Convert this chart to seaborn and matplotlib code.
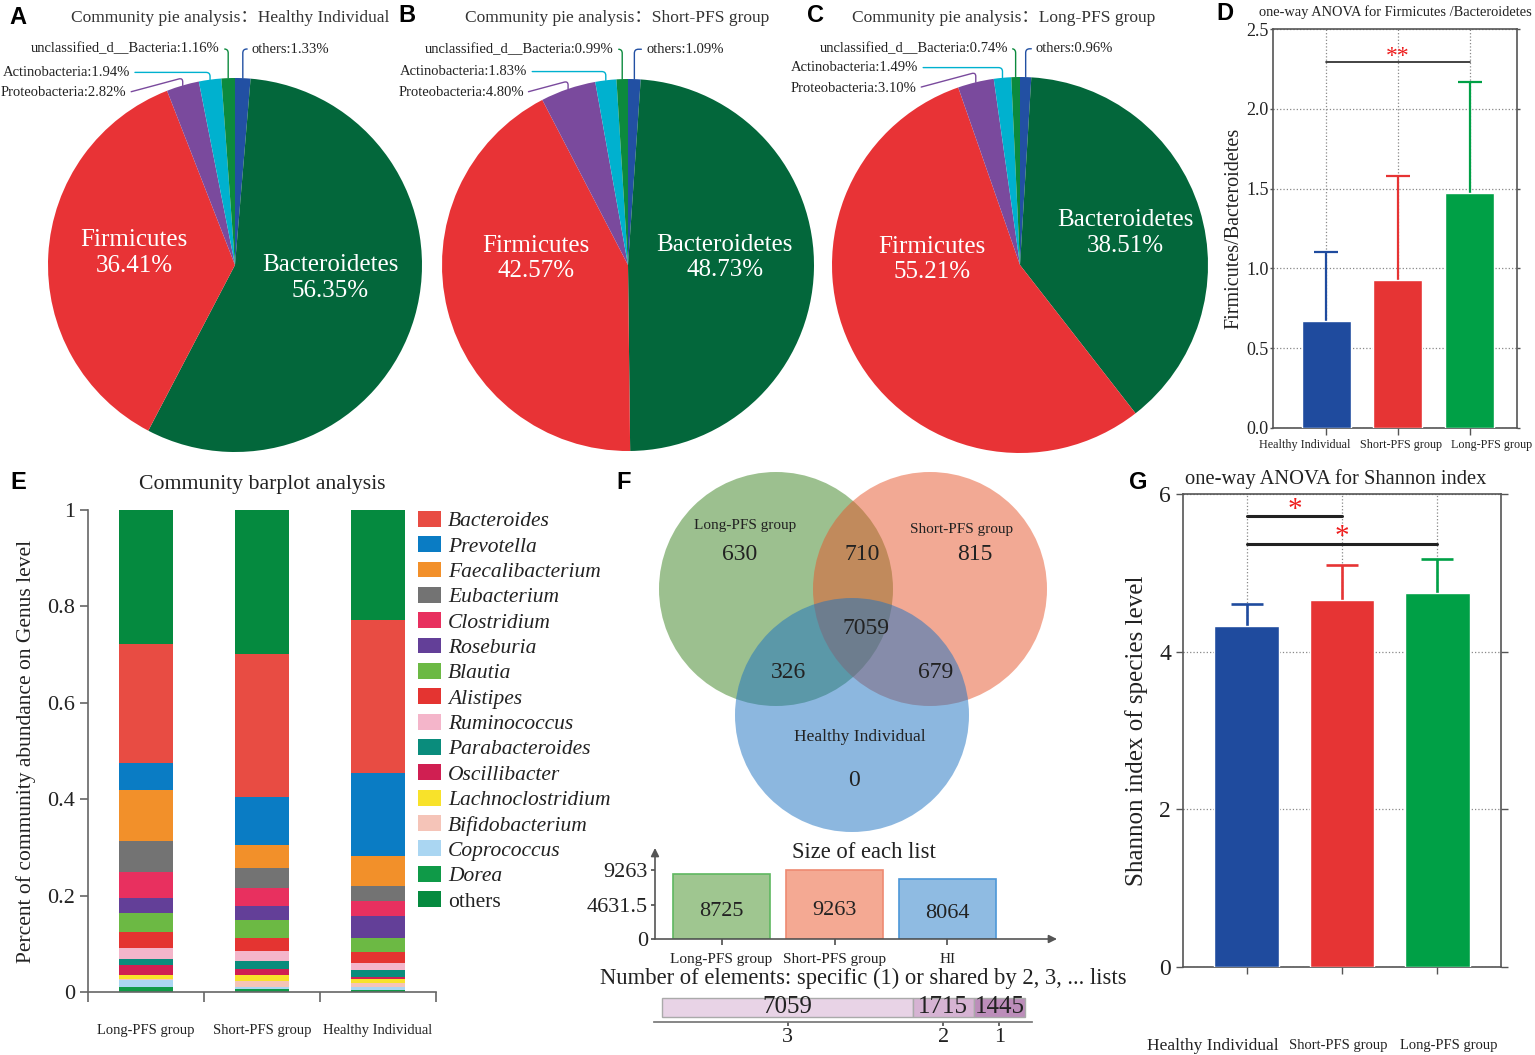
import numpy as np
import pandas as pd
import matplotlib
matplotlib.use('Agg')
import matplotlib.pyplot as plt
from matplotlib.patches import Circle, Patch
import seaborn as sns

# ---------------- data ----------------
# pie panels, wedges clockwise from 12 o'clock
phyla = ['others', 'Bacteroidetes', 'Firmicutes', 'Proteobacteria',
         'Actinobacteria', 'unclassified_d__Bacteria']
pie_healthy = [1.33, 56.35, 36.41, 2.82, 1.94, 1.16]
pie_short = [1.09, 48.73, 42.57, 4.80, 1.83, 0.99]
pie_long = [0.96, 38.51, 55.21, 3.10, 1.49, 0.74]

# one-way ANOVA panels (mean, upper SD)
groups = ['Healthy Individual', 'Short-PFS group', 'Long-PFS group']
fb_mean = [0.67, 0.93, 1.47]
fb_sd = [0.43, 0.65, 0.70]
shannon_mean = [4.32, 4.66, 4.74]
shannon_sd = [0.28, 0.44, 0.43]

# genus level community barplot (legend order)
bar_groups = ['Long-PFS group', 'Short-PFS group', 'Healthy Individual']
genera = ['Bacteroides', 'Prevotella', 'Faecalibacterium', 'Eubacterium',
          'Clostridium', 'Roseburia', 'Blautia', 'Alistipes', 'Ruminococcus',
          'Parabacteroides', 'Oscillibacter', 'Lachnoclostridium',
          'Bifidobacterium', 'Coprococcus', 'Dorea', 'others']
long_abund = [0.248, 0.056, 0.106, 0.065, 0.052, 0.032, 0.040, 0.033, 0.022,
              0.014, 0.019, 0.008, 0.004, 0.014, 0.010, 0.277]
short_abund = [0.297, 0.099, 0.047, 0.042, 0.038, 0.029, 0.036, 0.027, 0.022,
               0.016, 0.012, 0.014, 0.012, 0.004, 0.006, 0.299]
healthy_abund = [0.318, 0.171, 0.063, 0.031, 0.031, 0.045, 0.029, 0.024, 0.014,
                 0.014, 0.006, 0.007, 0.009, 0.005, 0.005, 0.228]

# venn
venn_names = ['Long-PFS group', 'Short-PFS group', 'Healthy Individual']
venn_only = [630, 815, 0]
venn_long_short = 710
venn_long_hi = 326
venn_short_hi = 679
venn_all = 7059
list_names = ['Long-PFS group', 'Short-PFS group', 'HI']
list_sizes = [8725, 9263, 8064]
shared_by = ['3', '2', '1']
shared_counts = [7059, 1715, 1445]

# ---------------- style ----------------
sns.set_theme(style='white')
plt.rcParams['font.family'] = ['Liberation Serif', 'Noto Sans CJK SC']
plt.rcParams['axes.edgecolor'] = '#555555'
plt.rcParams['xtick.color'] = '#555555'
plt.rcParams['ytick.color'] = '#555555'
plt.rcParams['xtick.labelcolor'] = '#222222'
plt.rcParams['ytick.labelcolor'] = '#222222'
plt.rcParams['axes.labelcolor'] = '#222222'

pie_colors = ['#2250a3', '#03673b', '#e83336', '#7a4a9d', '#00b1cf', '#0c8a3d']
group_colors = ['#1f4b9e', '#e63434', '#00a046']
genus_colors = ['#e84c43', '#0a7cc4', '#f2902a', '#737373', '#e8305f',
                '#633f98', '#6cb944', '#e43431', '#f4b5ca', '#0a8c7c',
                '#d01f52', '#f8e22a', '#f5c4b8', '#aad6f2', '#0f9a48', '#058a3f']

W, H = 1535, 1055
fig = plt.figure(figsize=(W / 100, H / 100), dpi=100)


def px_axes(x0, y0, x1, y1):
    return fig.add_axes([x0 / W, 1 - y1 / H, (x1 - x0) / W, (y1 - y0) / H])


def ftext(x, y, s, **kw):
    return fig.text(x / W, 1 - y / H, s, **kw)


def letter(x, y, s):
    ftext(x, y, s, family='Liberation Sans', weight='bold', fontsize=17,
          color='black', ha='center', va='center')


# ---------------- A-C pies ----------------
def draw_pie(cx, cy, r, vals, title, tx, label_xy, inner_xy):
    ax = px_axes(cx - r, cy - r, cx + r, cy + r)
    wedges, _ = ax.pie(vals, colors=pie_colors, startangle=90, counterclock=False,
                       radius=1, wedgeprops=dict(linewidth=0))
    ax.set_xlim(-1, 1)
    ax.set_ylim(-1, 1)
    for i in (1, 2):
        ax.text(inner_xy[i][0], inner_xy[i][1], f'{phyla[i]}\n{vals[i]:.2f}%',
                color='white', ha='center', va='center', fontsize=18, linespacing=1.2)
    for i in (0, 5, 4, 3):
        w = wedges[i]
        a = np.deg2rad((w.theta1 + w.theta2) / 2)
        xy = (np.cos(a), np.sin(a))
        ha = 'left' if i == 0 else 'right'
        angA = 15 if i == 3 else 0
        ax.annotate(f'{phyla[i]}:{vals[i]:.2f}%', xy=xy, xytext=label_xy[i],
                    ha=ha, va='center', fontsize=10.5, color='#222222',
                    annotation_clip=False,
                    arrowprops=dict(arrowstyle='-', color=pie_colors[i], lw=1,
                                    shrinkA=1, shrinkB=0,
                                    relpos=(0, 0.5) if i == 0 else (1, 0.5),
                                    connectionstyle=f'angle,angleA={angA},angleB=90,rad=4'))
    ftext(tx, 18, title, fontsize=12.5, color='#333333', ha='center', va='center')


draw_pie(235, 265, 187, pie_healthy, 'Community pie analysis：Healthy Individual', 230,
         {0: (0.09, 1.155), 5: (-0.08, 1.155), 4: (-0.56, 1.03), 3: (-0.58, 0.92)},
         {1: (0.51, -0.07), 2: (-0.54, 0.065)})
draw_pie(628, 265, 186, pie_short, 'Community pie analysis：Short-PFS group', 617,
         {0: (0.097, 1.16), 5: (-0.075, 1.16), 4: (-0.54, 1.04), 3: (-0.56, 0.925)},
         {1: (0.52, 0.04), 2: (-0.495, 0.035)})
draw_pie(1020, 265, 188, pie_long, 'Community pie analysis：Long-PFS group', 1004,
         {0: (0.085, 1.15), 5: (-0.064, 1.15), 4: (-0.54, 1.05), 3: (-0.55, 0.94)},
         {1: (0.56, 0.17), 2: (-0.47, 0.03)})
letter(18, 18, 'A')
letter(407, 15, 'B')
letter(816, 15, 'C')


# ---------------- D / G anova bars ----------------
def anova_bars(ax, means, sds, capsize, lw):
    df = pd.DataFrame({'group': groups, 'value': means})
    sns.barplot(data=df, x='group', y='value', hue='group', palette=group_colors,
                width=0.68, saturation=1, legend=False, ax=ax, zorder=3)
    for i, (m, s) in enumerate(zip(means, sds)):
        _, caps, _ = ax.errorbar(i, m, yerr=[[0], [s]], color=group_colors[i],
                                 capsize=capsize, capthick=lw, elinewidth=lw, zorder=2)
        for cl in caps:
            if np.allclose(cl.get_ydata(), m):
                cl.set_visible(False)
    ax.set_xlabel('')
    for sp in ax.spines.values():
        sp.set_visible(True)
        sp.set_color('#555555')
        sp.set_linewidth(1.2)
    ax.grid(True, linestyle=':', color='#888888', linewidth=0.9)
    ax.set_axisbelow(True)
    ax.tick_params(axis='y', left=True, right=True, direction='out', length=5, width=1)
    ax.tick_params(axis='x', bottom=True, direction='out', length=5, width=1)
    ax.set_xticks(range(len(groups)))
    ax.set_xticklabels([])


axd = px_axes(1273, 29, 1517, 428)
anova_bars(axd, fb_mean, fb_sd, 8.3, 1.6)
axd.set_ylim(0, 2.5)
axd.set_xlim(-0.74, 2.66)
axd.set_yticks([0, 0.5, 1.0, 1.5, 2.0, 2.5])
axd.set_yticklabels(['0.0', '0.5', '1.0', '1.5', '2.0', '2.5'], fontsize=13)
axd.tick_params(axis='y', which='major', left=True, length=2, pad=1)
axd.set_ylabel('Firmicutes/Bacteroidetes', fontsize=14.5, labelpad=2)
for g, x in zip(groups, [1305, 1401, 1492]):
    ftext(x, 445, g, fontsize=8.7, color='#222222', ha='center', va='center')
axd.plot([0, 2], [2.295, 2.295], color='#222222', lw=1.2, zorder=4)
axd.text(1, 2.33, '**', color='#ee1c1c', fontsize=17, ha='center', va='center', zorder=4)
ftext(1395, 12, 'one-way ANOVA for Firmicutes /Bacteroidetes', fontsize=10.4,
      color='#222222', ha='center', va='center')
letter(1225, 14, 'D')

axg = px_axes(1183, 494, 1501, 967)
anova_bars(axg, shannon_mean, shannon_sd, 11.5, 1.9)
axg.set_ylim(0, 6)
axg.set_xlim(-0.67, 2.67)
axg.set_yticks([0, 2, 4, 6])
axg.set_yticklabels(['0', '2', '4', '6'], fontsize=17)
axg.set_ylabel('Shannon index of species level', fontsize=18, labelpad=8)
for g, x, fs in zip(groups, [1213, 1338, 1449], [12.5, 10.5, 10.5]):
    ftext(x, 1046, g, fontsize=fs, color='#222222', ha='center', va='center')
axg.plot([0, 1], [5.726, 5.726], color='#222222', lw=2.2, zorder=4)
axg.plot([0, 2], [5.36, 5.36], color='#222222', lw=2.2, zorder=4)
axg.text(0.5, 5.80, '*', color='#ee1c1c', fontsize=21, ha='center', va='center', zorder=4)
axg.text(1, 5.45, '*', color='#ee1c1c', fontsize=21, ha='center', va='center', zorder=4)
ftext(1336, 479, 'one-way ANOVA for Shannon index', fontsize=14.8, color='#222222',
      ha='center', va='center')
letter(1138, 482, 'G')

# ---------------- E community barplot ----------------
axe = px_axes(88, 510, 436, 992)
abund = np.array([long_abund, short_abund, healthy_abund])
stack_order = list(range(len(genera) - 2, -1, -1)) + [len(genera) - 1]
bottom = np.zeros(len(bar_groups))
for j in stack_order:
    axe.bar(range(len(bar_groups)), abund[:, j], bottom=bottom, width=0.47,
            color=genus_colors[j], linewidth=0)
    bottom += abund[:, j]
axe.set_xlim(-0.5, 2.5)
axe.set_ylim(0, 1)
for s in ['top', 'right']:
    axe.spines[s].set_visible(False)
for s in ['left', 'bottom']:
    axe.spines[s].set_color('#666666')
    axe.spines[s].set_linewidth(1.2)
axe.set_yticks([0, 0.2, 0.4, 0.6, 0.8, 1.0])
axe.set_yticklabels(['0', '0.2', '0.4', '0.6', '0.8', '1'], fontsize=16)
axe.set_xticks([-0.5, 0.5, 1.5, 2.5])
axe.set_xticklabels([])
axe.set_xticks(range(3), minor=True)
axe.set_xticklabels(bar_groups, minor=True, fontsize=10.5)
axe.tick_params(axis='y', left=True, direction='out', length=6, width=1.2, colors='#666666',
                labelcolor='#222222')
axe.tick_params(axis='x', which='major', bottom=True, direction='out', length=7, width=1.2,
                colors='#666666')
axe.tick_params(axis='x', which='minor', bottom=False, pad=19, labelcolor='#222222')
axe.set_ylabel('Percent of community abundance on Genus level', fontsize=15.5, labelpad=8)
handles = [Patch(facecolor=c, edgecolor='none') for c in genus_colors]
leg = fig.legend(handles, genera, loc='upper left', bbox_to_anchor=(418 / W, 1 - 511 / H),
                 frameon=False, fontsize=15.5, handlelength=1.05, handleheight=0.75,
                 handletextpad=0.35, labelspacing=0.23, borderaxespad=0, borderpad=0)
for t in leg.get_texts():
    if t.get_text() != 'others':
        t.set_style('italic')
    t.set_color('#222222')
ftext(262, 485, 'Community barplot analysis', fontsize=15.7, color='#222222',
      ha='center', va='center')
letter(18, 482, 'E')

# ---------------- F venn ----------------
axv = px_axes(630, 462, 1070, 842)
axv.set_xlim(630, 1070)
axv.set_ylim(842, 462)
axv.axis('off')
venn_centers = [(776, 589), (930, 589), (852, 715)]
venn_colors = ['#3b8320', '#e7552a', '#1b71c1']
for (cx, cy), c in zip(venn_centers, venn_colors):
    axv.add_patch(Circle((cx, cy), 117, facecolor=c, alpha=0.5, linewidth=0))
vtxt = dict(ha='center', va='center', color='#222222')
axv.text(745, 526, venn_names[0], fontsize=11, **vtxt)
axv.text(962, 529, venn_names[1], fontsize=11, **vtxt)
axv.text(860, 737, venn_names[2], fontsize=12.5, **vtxt)
axv.text(740, 555, str(venn_only[0]), fontsize=17, **vtxt)
axv.text(975, 555, str(venn_only[1]), fontsize=17, **vtxt)
axv.text(854, 780, str(venn_only[2]), fontsize=17, **vtxt)
axv.text(862, 555, str(venn_long_short), fontsize=17, **vtxt)
axv.text(866, 628, str(venn_all), fontsize=17, **vtxt)
axv.text(788, 672, str(venn_long_hi), fontsize=17, **vtxt)
axv.text(936, 672, str(venn_short_hi), fontsize=17, **vtxt)
letter(624, 482, 'F')

# size of each list
axs = px_axes(655, 848, 1057, 939)
df_sz = pd.DataFrame({'list': list_names, 'size': list_sizes})
sns.barplot(data=df_sz, x='list', y='size', hue='list',
            palette=['#9fc690', '#f4a993', '#8fbbe2'], width=0.86, saturation=1,
            legend=False, ax=axs)
for p, ec in zip(axs.patches, ['#5fb760', '#ee8a72', '#4d97d8']):
    p.set_edgecolor(ec)
    p.set_linewidth(1.2)
axs.set_xlim(-0.59, 2.97)
axs.set_ylim(0, 12230)
for sp in axs.spines.values():
    sp.set_visible(False)
axs.annotate('', xy=(1, 0), xytext=(0, 0), xycoords='axes fraction',
             arrowprops=dict(arrowstyle='-|>', color='#555555', lw=1.2, shrinkA=0, shrinkB=0))
axs.annotate('', xy=(0, 1), xytext=(0, 0), xycoords='axes fraction',
             arrowprops=dict(arrowstyle='-|>', color='#555555', lw=1.2, shrinkA=0, shrinkB=0))
axs.set_yticks([0, 4631.5, 9263])
axs.set_yticklabels(['0', '4631.5', '9263'], fontsize=16)
axs.set_xticks(range(3))
axs.set_xticklabels(list_names, fontsize=11)
axs.set_xlabel('')
axs.set_ylabel('')
axs.tick_params(axis='y', left=True, direction='out', length=3, pad=2)
axs.tick_params(axis='x', bottom=True, direction='out', length=4, pad=6)
for i, v in enumerate(list_sizes):
    axs.text(i, v * 0.42, str(v), ha='center', va='center', fontsize=16, color='#222222')
ftext(864, 852, 'Size of each list', fontsize=16.3, color='#222222', ha='center', va='center')
ftext(863, 978, 'Number of elements: specific (1) or shared by 2, 3, ... lists',
      fontsize=16.3, color='#222222', ha='center', va='center')

# shared-by horizontal bar
axh = px_axes(654, 994, 1032, 1022)
left = np.concatenate([[0], np.cumsum(shared_counts)[:-1]])
axh.barh(0.53, shared_counts, left=left, height=0.68,
         color=['#e8d3e6', '#d6b3d3', '#bc8dba'], edgecolor='#aaaaaa', linewidth=1)
axh.set_xlim(-235, 10414)
axh.set_ylim(0, 1)
for s in ['top', 'right', 'left']:
    axh.spines[s].set_visible(False)
axh.spines['bottom'].set_color('#777777')
axh.set_yticks([])
centers = left + np.array(shared_counts) / 2
axh.set_xticks(centers)
axh.set_xticklabels(shared_by, fontsize=16)
axh.tick_params(axis='x', bottom=True, direction='out', length=3, pad=1)
for c, v in zip(centers, shared_counts):
    axh.text(c, 0.53, str(v), ha='center', va='center', fontsize=18, color='#222222')

fig.savefig('out.png', dpi=100)
